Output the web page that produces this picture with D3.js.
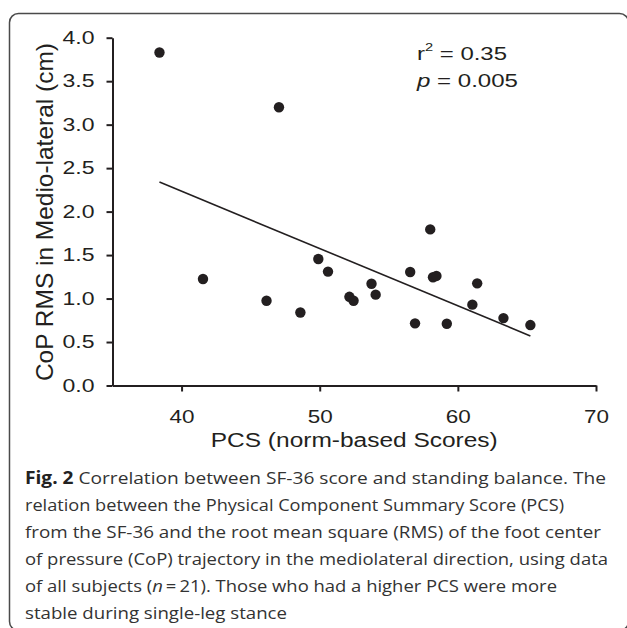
<!DOCTYPE html>
<html>
<head>
<meta charset="utf-8">
<script src="https://cdn.jsdelivr.net/npm/d3@7"></script>
<style>
  body { margin: 0; background: #fff; }
  svg { display: block; }
</style>
</head>
<body>
<svg id="graph" width="627" height="628"></svg>
<script>
// PCS score (x) and CoP RMS medio-lateral (y) for the 21 subjects
const pcs = [38.4, 41.55, 46.15, 47.05, 48.6, 49.9, 50.6, 52.15, 52.45, 53.75, 54.05,
             56.55, 56.9, 58.0, 58.2, 58.45, 59.2, 61.05, 61.4, 63.3, 65.25];
const rms = [3.83, 1.225, 0.975, 3.20, 0.84, 1.455, 1.31, 1.02, 0.975, 1.17, 1.045,
             1.305, 0.715, 1.795, 1.245, 1.26, 0.71, 0.93, 1.175, 0.775, 0.695];

// ends of the regression line
const fitX = [38.4, 65.25];
const fitY = [2.34, 0.57];

const xTicks = [40, 50, 60, 70];
const yTicks = [0, 0.5, 1, 1.5, 2, 2.5, 3, 3.5, 4];

const xTitle = "PCS (norm-based Scores)";
const yTitle = "CoP RMS in Medio-lateral (cm)";

// lignes de la légende, chaque ligne = liste de morceaux [texte, style]
const caption = [
  [["Fig. 2", "bold"], [" Correlation between SF-36 score and standing balance. The", ""]],
  [["relation between the Physical Component Summary Score (PCS)", ""]],
  [["from the SF-36 and the root mean square (RMS) of the foot center", ""]],
  [["of pressure (CoP) trajectory in the mediolateral direction, using data", ""]],
  [["of all subjects (", ""], ["n", "italic"], ["\u2009=\u200921). Those who had a higher PCS were more", ""]],
  [["stable during single-leg stance", ""]]
];
const captionWidths = [581, 539, 576, 583, 532, 262];

const ink = "#231f20";
const svg = d3.select("#graph");

// cadre arrondi
svg.append("rect")
  .attr("x", 9.5).attr("y", 13.5)
  .attr("width", 619).attr("height", 617)
  .attr("rx", 9)
  .attr("fill", "none")
  .attr("stroke", "#4a4a4a")
  .attr("stroke-width", 1.5);

const x = d3.scaleLinear().domain([35, 70]).range([112.5, 596]);
const y = d3.scaleLinear().domain([0, 4]).range([385.5, 37.7]);

const chart = svg.append("g")
  .attr("font-family", "'Liberation Sans', Arial, sans-serif")
  .attr("fill", ink);

// axe x
const gx = chart.append("g")
  .attr("transform", `translate(0,${y(0)})`)
  .call(d3.axisBottom(x).tickValues(xTicks).tickSize(6).tickSizeOuter(0).tickPadding(19));
gx.selectAll("text")
  .attr("font-size", 18)
  .attr("textLength", 25)
  .attr("lengthAdjust", "spacingAndGlyphs");

// axe y
const gy = chart.append("g")
  .attr("transform", `translate(${x(35)},0)`)
  .call(d3.axisLeft(y).tickValues(yTicks).tickFormat(d3.format(".1f")).tickSize(6).tickSizeOuter(0).tickPadding(12));
gy.selectAll("text")
  .attr("font-size", 18)
  .attr("textLength", 32)
  .attr("lengthAdjust", "spacingAndGlyphs");

[gx, gy].forEach(g => {
  g.attr("font-family", null);
  g.select(".domain").attr("stroke", ink).attr("stroke-width", 2);
  g.selectAll(".tick line").attr("stroke", ink).attr("stroke-width", 2);
  g.selectAll(".tick text").attr("fill", ink);
});

// titres des axes
chart.append("text")
  .attr("x", (x(35) + x(70)) / 2)
  .attr("y", 447)
  .attr("text-anchor", "middle")
  .attr("font-size", 20)
  .attr("textLength", 287)
  .attr("lengthAdjust", "spacingAndGlyphs")
  .text(xTitle);

chart.append("text")
  .attr("transform", `translate(53,${(y(0) + y(4)) / 2 + 0.5}) rotate(-90)`)
  .attr("text-anchor", "middle")
  .attr("font-size", 24)
  .attr("textLength", 338)
  .attr("lengthAdjust", "spacingAndGlyphs")
  .text(yTitle);

// droite de régression
chart.append("line")
  .attr("x1", x(fitX[0])).attr("y1", y(fitY[0]))
  .attr("x2", x(fitX[1])).attr("y2", y(fitY[1]))
  .attr("stroke", ink)
  .attr("stroke-width", 1.6);

// points
chart.selectAll("circle.pt")
  .data(pcs.map((v, i) => [v, rms[i]]))
  .enter()
  .append("circle")
  .classed("pt", true)
  .attr("cx", d => x(d[0]))
  .attr("cy", d => y(d[1]))
  .attr("r", 5.2)
  .attr("fill", ink);

// annotations r² et p
const r2 = chart.append("text")
  .attr("x", 417).attr("y", 60)
  .attr("font-size", 18)
  .attr("textLength", 90)
  .attr("lengthAdjust", "spacingAndGlyphs");
r2.append("tspan").text("r");
r2.append("tspan").attr("font-size", 11).attr("dy", -9).text("2");
r2.append("tspan").attr("dy", 9).text(" = 0.35");

const pv = chart.append("text")
  .attr("x", 417).attr("y", 86.5)
  .attr("font-size", 18)
  .attr("textLength", 101)
  .attr("lengthAdjust", "spacingAndGlyphs");
pv.append("tspan").attr("font-style", "italic").text("p");
pv.append("tspan").text(" = 0.005");

// légende de la figure
const cap = svg.append("g")
  .attr("font-family", "'Open Sans', 'Noto Sans', sans-serif")
  .attr("font-size", 17)
  .attr("fill", "#333");

caption.forEach((line, i) => {
  const t = cap.append("text")
    .attr("x", 25)
    .attr("y", 484 + i * 27)
    .attr("textLength", captionWidths[i])
    .attr("lengthAdjust", "spacingAndGlyphs");
  line.forEach(([txt, style]) => {
    const s = t.append("tspan").text(txt);
    if (style === "bold") s.attr("font-weight", "bold").attr("fill", "#222");
    if (style === "italic") s.attr("font-style", "italic");
  });
});
</script>
</body>
</html>
